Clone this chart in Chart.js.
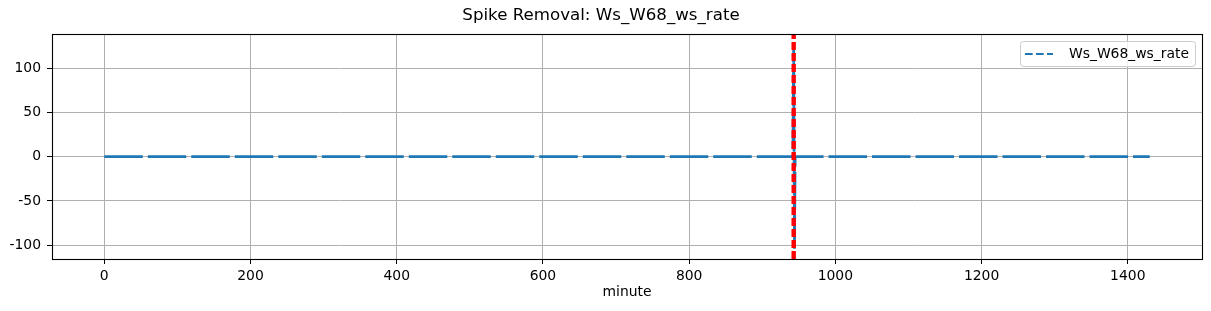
<!DOCTYPE html>
<html><head><meta charset="utf-8">
<script src="https://cdn.jsdelivr.net/npm/chart.js@4"></script>
<style>html,body{margin:0;padding:0;background:#fff;overflow:hidden;} #wrap{width:1211px;height:311px;position:relative;}</style>
</head><body><div id="wrap"><canvas id="c" width="1211" height="311"></canvas></div>
<script>
const chartTitle = 'Spike Removal: Ws_W68_ws_rate';
const seriesLabel = 'Ws_W68_ws_rate';
const xAxisLabel = 'minute';
const minutes = [0, 942, 943, 944, 945, 1430];
const rateValues = [0, 0, 127, -104, 0, 0];
const spikeMinutes = [943];
const xTicks = [0, 200, 400, 600, 800, 1000, 1200, 1400];
const yTicks = [-100, -50, 0, 50, 100];
const xRange = [-71.5, 1501.5];
const yRange = [-115.6, 138.6];

const FONT = 'DejaVu Sans';
const BLUE = '#1f77b4';

const points = minutes.map((m, i) => ({x: m, y: rateValues[i]}));

const framePlugin = {
  id: 'frameAndExtras',
  afterDatasetsDraw(chart) {
    const ctx = chart.ctx;
    const ca = chart.chartArea;
    const xs = chart.scales.x;
    // red spike markers
    ctx.save();
    ctx.beginPath();
    ctx.rect(ca.left, ca.top, ca.right - ca.left, ca.bottom - ca.top);
    ctx.clip();
    ctx.strokeStyle = '#ff0000';
    ctx.lineWidth = 4.4;
    ctx.setLineDash([8, 3]);
    spikeMinutes.forEach(m => {
      const px = xs.getPixelForValue(m);
      ctx.beginPath();
      ctx.moveTo(px, ca.bottom);
      ctx.lineTo(px, ca.top);
      ctx.stroke();
    });
    ctx.restore();
    // frame
    ctx.save();
    ctx.strokeStyle = '#000';
    ctx.lineWidth = 1.1;
    ctx.strokeRect(Math.round(ca.left) + 0.5, Math.round(ca.top) + 0.5, Math.round(ca.right - ca.left), Math.round(ca.bottom - ca.top));
    ctx.restore();
    // legend
    ctx.save();
    ctx.font = '13.9px "' + FONT + '"';
    const tw = ctx.measureText(seriesLabel).width;
    const boxRight = ca.right - 7;
    const boxTop = ca.top + 7;
    const boxW = tw + 55;
    const boxH = 25;
    const boxLeft = boxRight - boxW;
    ctx.beginPath();
    ctx.roundRect(Math.round(boxLeft) + 0.5, Math.round(boxTop) + 0.5, Math.round(boxW), boxH, 3);
    ctx.fillStyle = 'rgba(255,255,255,0.8)';
    ctx.fill();
    ctx.strokeStyle = '#cccccc';
    ctx.lineWidth = 1;
    ctx.stroke();
    const cy = boxTop + boxH / 2 + 0.5;
    ctx.strokeStyle = BLUE;
    ctx.lineWidth = 2.2;
    ctx.setLineDash([7.7, 3.3]);
    ctx.beginPath();
    ctx.moveTo(boxLeft + 5, cy);
    ctx.lineTo(boxLeft + 33, cy);
    ctx.stroke();
    ctx.fillStyle = '#000';
    ctx.textBaseline = 'middle';
    ctx.textAlign = 'left';
    ctx.fillText(seriesLabel, boxLeft + 49, cy);
    ctx.restore();
  }
};

new Chart(document.getElementById('c'), {
  type: 'line',
  data: {
    datasets: [{
      label: seriesLabel,
      data: points,
      borderColor: BLUE,
      backgroundColor: BLUE,
      borderWidth: 2.8,
      borderDash: [38.5, 5],
      pointRadius: 0,
      tension: 0,
      fill: false
    }]
  },
  options: {
    responsive: false,
    animation: false,
    devicePixelRatio: 1,
    layout: {padding: {left: 0, right: 9, top: 0, bottom: 0}},
    plugins: {
      legend: {display: false},
      tooltip: {enabled: false},
      title: {
        display: true,
        text: chartTitle,
        color: '#000',
        font: {family: FONT, size: 16.67, weight: 'normal'},
        padding: {top: 6, bottom: 8}
      }
    },
    scales: {
      x: {
        type: 'linear',
        min: xRange[0],
        max: xRange[1],
        afterBuildTicks: s => { s.ticks = xTicks.map(v => ({value: v})); },
        afterFit: s => { s.height = 52; },
        ticks: {color: '#000', font: {family: FONT, size: 13.9}, padding: 4, maxRotation: 0, autoSkip: false, callback: v => String(v)},
        grid: {color: '#b0b0b0', lineWidth: 1, tickColor: '#000', tickLength: 5, tickWidth: 1},
        border: {display: false},
        title: {display: true, text: xAxisLabel, color: '#000', font: {family: FONT, size: 13.9}, padding: {top: 4, bottom: 10}}
      },
      y: {
        type: 'linear',
        min: yRange[0],
        max: yRange[1],
        afterBuildTicks: s => { s.ticks = yTicks.map(v => ({value: v})); },
        afterFit: s => { s.width = 52; },
        ticks: {color: '#000', font: {family: FONT, size: 13.9}, padding: 6, autoSkip: false, callback: v => String(v)},
        grid: {color: '#b0b0b0', lineWidth: 1, tickColor: '#000', tickLength: 5, tickWidth: 1},
        border: {display: false}
      }
    }
  },
  plugins: [framePlugin]
});
</script>
</body></html>
